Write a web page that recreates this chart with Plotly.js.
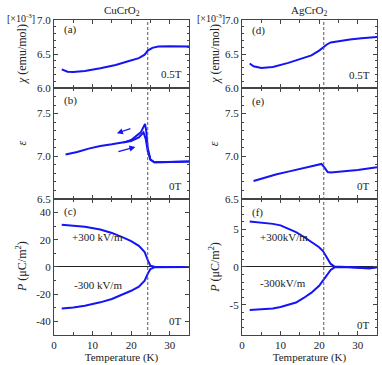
<!DOCTYPE html>
<html>
<head>
<meta charset="utf-8">
<script src="https://cdn.plot.ly/plotly-3.0.1.min.js"></script>
<style>
  html, body { margin: 0; padding: 0; background: #fff; }
  #plot { width: 382px; height: 365px; }
</style>
</head>
<body>
<div id="plot"></div>
<script>
// CuCrO2 susceptibility (x10^-3 emu/mol), 0.5 T
const tChiCu = [2, 3.5, 5, 8, 12, 16, 19, 22, 23.5, 24.3, 25.5, 27, 30, 35];
const chiCu = [6.275, 6.24, 6.235, 6.25, 6.29, 6.34, 6.39, 6.44, 6.49, 6.55, 6.59, 6.61, 6.615, 6.61];

// AgCrO2 susceptibility
const tChiAg = [2, 3, 5, 8, 12, 15, 18, 20, 21, 22, 23, 25, 28, 31, 35];
const chiAg = [6.36, 6.32, 6.295, 6.31, 6.37, 6.42, 6.48, 6.55, 6.6, 6.64, 6.67, 6.69, 6.715, 6.73, 6.75];

// CuCrO2 dielectric constant, heating and cooling branches
const tEpsCuUp = [3, 6, 9, 12, 15, 18, 20, 22, 23.2, 23.8, 24.3, 25, 26, 28, 31, 35];
const epsCuUp = [7.02, 7.05, 7.09, 7.12, 7.14, 7.16, 7.18, 7.22, 7.28, 7.2, 7.06, 6.96, 6.93, 6.93, 6.935, 6.94];
const tEpsCuDown = [35, 30, 26, 25, 24.3, 23.9, 23.6, 22.5, 21, 20, 18];
const epsCuDown = [6.94, 6.935, 6.93, 6.96, 7.1, 7.3, 7.38, 7.28, 7.22, 7.19, 7.16];

// AgCrO2 dielectric constant
const tEpsAg = [3, 6, 9, 12, 15, 18, 20, 20.6, 21.5, 22.2, 23, 26, 30, 35];
const epsAg = [6.71, 6.75, 6.79, 6.82, 6.85, 6.88, 6.9, 6.91, 6.86, 6.815, 6.81, 6.82, 6.84, 6.87];

// CuCrO2 polarization (uC/m^2), +300 kV/m and -300 kV/m poling
const tPCu = [2, 5, 8, 12, 15, 18, 20, 22, 23.5, 24.3, 25, 26, 30, 35];
const pCuPos = [31, 30.5, 29.5, 27.5, 25, 21.5, 19, 15.5, 11, 5, 1, 0.2, 0, 0];
const pCuNeg = [-30.5, -29.8, -28.5, -26, -23.5, -20, -17.5, -14.5, -10, -5, -1.5, -0.3, 0, 0];

// AgCrO2 polarization
const tPAg = [2, 5, 8, 10, 12, 14, 16, 18, 20, 21, 22, 23, 24, 26, 28, 30, 32, 33, 35];
const pAgPos = [6.0, 5.9, 5.7, 5.5, 5.1, 4.6, 4.0, 3.3, 2.6, 2.1, 1.3, 0.4, 0.05, 0, -0.05, -0.1, -0.2, -0.15, 0];
const pAgNeg = [-5.7, -5.6, -5.5, -5.3, -5.0, -4.7, -4.1, -3.4, -2.5, -1.8, -1.1, -0.4, -0.05, 0, -0.05, -0.15, -0.2, -0.2, -0.05];

const tcCu = 24.3;
const tcAg = 21.2;

const blue = 'rgb(20,20,245)';
const serif = 'Liberation Serif, Times New Roman, serif';
const font = { family: serif, size: 11, color: '#222' };
const smallFont = { family: serif, size: 10, color: '#222' };
const titleFont = { family: serif, size: 12, color: '#222' };

function line(x, y, xa, ya) {
    return { x: x, y: y, xaxis: xa, yaxis: ya, mode: 'lines', type: 'scatter',
             line: { color: blue, width: 2 }, hoverinfo: 'skip' };
}

const traces = [
    line(tChiCu, chiCu, 'x', 'y'),
    line(tEpsCuUp, epsCuUp, 'x2', 'y2'),
    line(tEpsCuDown, epsCuDown, 'x2', 'y2'),
    line(tPCu, pCuPos, 'x3', 'y3'),
    line(tPCu, pCuNeg, 'x3', 'y3'),
    line(tChiAg, chiAg, 'x4', 'y4'),
    line(tEpsAg, epsAg, 'x5', 'y5'),
    line(tPAg, pAgPos, 'x6', 'y6'),
    line(tPAg, pAgNeg, 'x6', 'y6')
];

const leftDom = [0, 0.418];
const rightDom = [0.582, 1];
const rowA = [0.784, 1];
const rowB = [0.432, 0.784];
const rowC = [0, 0.432];

function xax(dom, anchor, labels) {
    const a = {
        domain: dom, anchor: anchor, range: [0, 35], dtick: 10, tick0: 0,
        showline: true, linecolor: '#444', linewidth: 1, mirror: 'ticks',
        ticks: 'inside', ticklen: 4, tickcolor: '#444',
        minor: { dtick: 5, tick0: 0, ticks: 'inside', ticklen: 3, tickcolor: '#444' },
        showgrid: false, zeroline: false, showticklabels: labels, tickfont: font
    };
    if (labels) a.title = { text: 'Temperature (K)', font: font, standoff: 2 };
    return a;
}

function yax(dom, anchor, range, opts) {
    return Object.assign({
        domain: dom, anchor: anchor, range: range,
        showline: true, linecolor: '#444', linewidth: 1, mirror: 'ticks',
        ticks: 'inside', ticklen: 4, tickcolor: '#444',
        showgrid: false, zeroline: false, tickfont: font
    }, opts);
}

const pCuTicks = [40, 20, 0, -20, -40];
const pCuText = ['40', '20', '0', '-20', '-40'];
const pAgTicks = [5, 0, -5];
const pAgText = ['5', '0', '-5'];

const minor01 = { dtick: 0.1, tick0: 0, ticks: 'inside', ticklen: 2, tickcolor: '#444' };

const layout = {
    width: 382, height: 365,
    margin: { l: 54, r: 5, t: 20, b: 30 },
    paper_bgcolor: '#fff', plot_bgcolor: '#fff',
    showlegend: false, font: font,
    xaxis: xax(leftDom, 'y', false),
    xaxis2: xax(leftDom, 'y2', false),
    xaxis3: xax(leftDom, 'y3', true),
    xaxis4: xax(rightDom, 'y4', false),
    xaxis5: xax(rightDom, 'y5', false),
    xaxis6: xax(rightDom, 'y6', true),
    yaxis: yax(rowA, 'x', [6, 7], { dtick: 0.5, tick0: 0, tickformat: '.1f', minor: minor01 }),
    yaxis2: yax(rowB, 'x2', [6.5, 7.8], { dtick: 0.5, tick0: 0, tickformat: '.1f', minor: minor01 }),
    yaxis3: yax(rowC, 'x3', [-50, 50], {
        tickmode: 'array', tickvals: pCuTicks, ticktext: pCuText,
        minor: { dtick: 10, tick0: 0, ticks: 'inside', ticklen: 2, tickcolor: '#444' },
        zeroline: true, zerolinecolor: '#222', zerolinewidth: 1 }),
    yaxis4: yax(rowA, 'x4', [6, 7], { dtick: 0.5, tick0: 0, tickformat: '.1f', minor: minor01 }),
    yaxis5: yax(rowB, 'x5', [6.5, 7.8], { dtick: 0.5, tick0: 0, tickformat: '.1f', minor: minor01 }),
    yaxis6: yax(rowC, 'x6', [-9, 9], {
        tickmode: 'array', tickvals: pAgTicks, ticktext: pAgText,
        minor: { dtick: 1, tick0: 0, ticks: 'inside', ticklen: 2, tickcolor: '#444' },
        zeroline: true, zerolinecolor: '#222', zerolinewidth: 1 }),
    shapes: [
        { type: 'line', xref: 'x3', yref: 'paper', x0: tcCu, x1: tcCu, y0: 0, y1: 1,
          line: { color: '#555', width: 1, dash: '3px,2px' } },
        { type: 'line', xref: 'x6', yref: 'paper', x0: tcAg, x1: tcAg, y0: 0, y1: 1,
          line: { color: '#555', width: 1, dash: '3px,2px' } }
    ],
    annotations: []
};

function note(text, xref, yref, x, y, xanchor, yanchor, f, angle) {
    layout.annotations.push({ text: text, xref: xref, yref: yref, x: x, y: y,
        xanchor: xanchor || 'left', yanchor: yanchor || 'middle', showarrow: false,
        font: f || font, textangle: angle || 0 });
}

// column titles
note('CuCrO<sub>2</sub>', 'x domain', 'paper', 0.5, 1.0, 'center', 'bottom');
note('AgCrO<sub>2</sub>', 'x4 domain', 'paper', 0.5, 1.0, 'center', 'bottom');
// scale factors
note('[×10<sup>-3</sup>]', 'paper', 'paper', -0.052, 1.005, 'right', 'middle', smallFont);
note('[×10<sup>-3</sup>]', 'paper', 'paper', 0.536, 1.005, 'right', 'middle', smallFont);
// y axis titles (left column, right column)
const yTitles = ['<i>χ</i> (emu/mol)', '<i>ε</i>', '<i>P</i> (μC/m<sup>2</sup>)'];
const yTitleY = [0.892, 0.608, 0.216];
[-0.099, 0.498].forEach(function (xp) {
    yTitles.forEach(function (t, i) {
        note(t, 'paper', 'paper', xp, yTitleY[i], 'center', 'middle', titleFont, -90);
    });
});
// panel letters
const letters = [['(a)', 'x', 'y', 0.86], ['(b)', 'x2', 'y2', 0.89], ['(c)', 'x3', 'y3', 0.91],
                 ['(d)', 'x4', 'y4', 0.84], ['(e)', 'x5', 'y5', 0.88], ['(f)', 'x6', 'y6', 0.9]];
letters.forEach(function (l) {
    note(l[0], l[1] + ' domain', l[2] + ' domain', 0.06, l[3], 'left', 'middle');
});
// field labels
const fields = [['0.5T', 'x', 'y', 0.21], ['0T', 'x2', 'y2', 0.12], ['0T', 'x3', 'y3', 0.1],
                ['0.5T', 'x4', 'y4', 0.19], ['0T', 'x5', 'y5', 0.12], ['0T', 'x6', 'y6', 0.07]];
fields.forEach(function (f) {
    note(f[0], f[1] + ' domain', f[2] + ' domain', 0.96, f[3], 'right', 'middle');
});
// poling labels
note('+300 kV/m', 'x3 domain', 'y3 domain', 0.12, 0.72);
note('-300 kV/m', 'x3 domain', 'y3 domain', 0.13, 0.37);
note('+300kV/m', 'x6 domain', 'y6 domain', 0.12, 0.72);
note('-300kV/m', 'x6 domain', 'y6 domain', 0.12, 0.38);

// heating / cooling arrows in panel (b)
const arrowTail = [[20.2, 7.33], [16.3, 7.05]];
const arrowHead = [[16.3, 7.27], [21.1, 7.11]];
for (let i = 0; i < 2; i++) {
    layout.annotations.push({
        xref: 'x2', yref: 'y2', axref: 'x2', ayref: 'y2',
        x: arrowHead[i][0], y: arrowHead[i][1], ax: arrowTail[i][0], ay: arrowTail[i][1],
        text: '', showarrow: true, arrowhead: 2, arrowsize: 1, arrowwidth: 1.2, arrowcolor: blue
    });
}

Plotly.newPlot('plot', traces, layout, { staticPlot: true });
</script>
</body>
</html>
